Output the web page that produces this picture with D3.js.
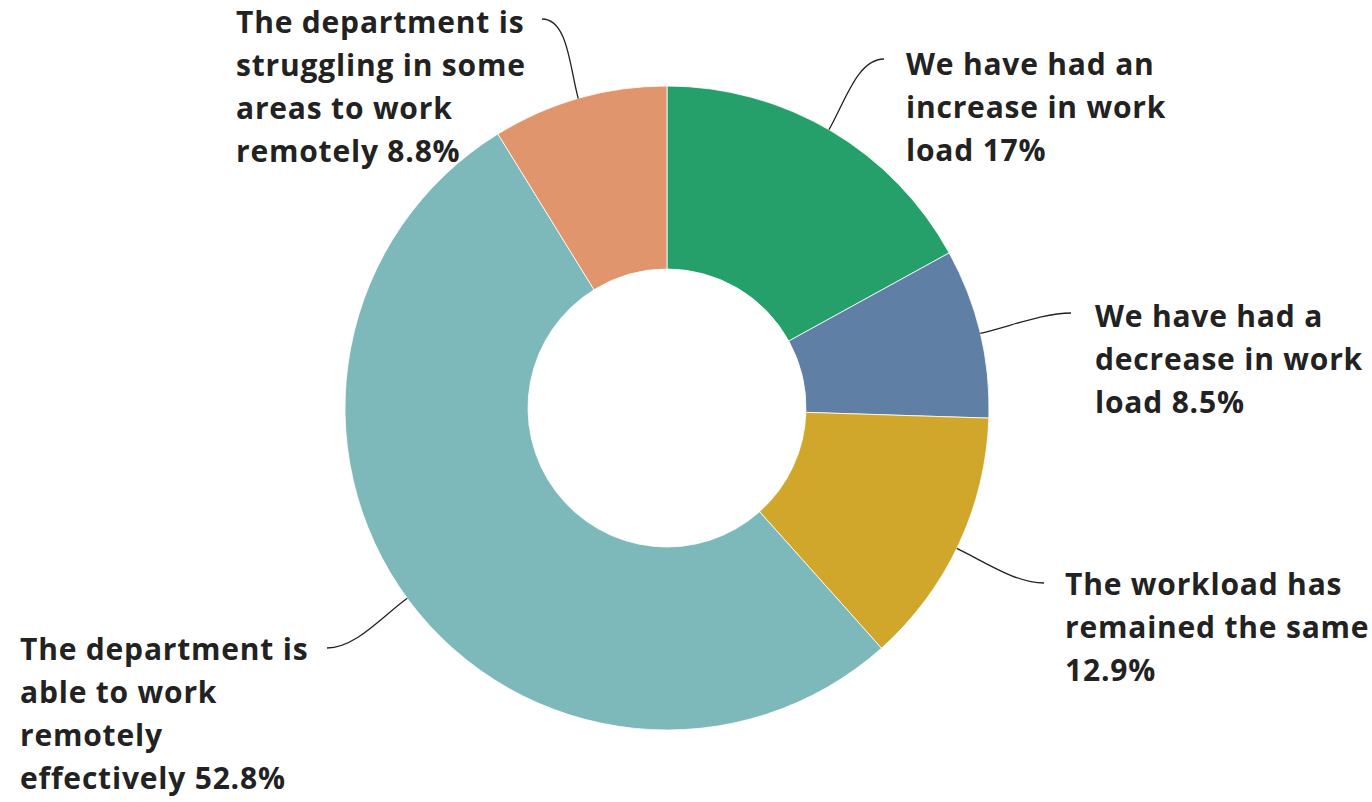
<!DOCTYPE html>
<html>
<head>
<meta charset="utf-8">
<script src="https://cdn.jsdelivr.net/npm/d3@7.9.0/dist/d3.min.js"></script>
<style>
  html, body { margin: 0; padding: 0; background: #fff; }
  svg text { font-family: "Open Sans", "Noto Sans", sans-serif; font-weight: 700; fill: #222; letter-spacing: 0.8px; }
</style>
</head>
<body>
<svg width="1372" height="802"></svg>
<script>
// slice data, clockwise from 12 o'clock
const categories = [
  'We have had an increase in work load',
  'We have had a decrease in work load',
  'The workload has remained the same',
  'The department is able to work remotely effectively',
  'The department is struggling in some areas to work remotely'
];
const values = [17, 8.5, 12.9, 52.8, 8.8];
const valueLabels = ['17%', '8.5%', '12.9%', '52.8%', '8.8%'];
const colorList = ['#25a06b', '#5f7fa5', '#d0a72b', '#7db8bb', '#e0956c'];
// wrapped label lines as in the original
const labelLines = [
  ['We have had an', 'increase in work', 'load 17%'],
  ['We have had a', 'decrease in work', 'load 8.5%'],
  ['The workload has', 'remained the same', '12.9%'],
  ['The department is', 'able to work', 'remotely', 'effectively 52.8%'],
  ['The department is', 'struggling in some', 'areas to work', 'remotely 8.8%']
];

const svg = d3.select('svg');
const cx = 667, cy = 408;
const outerR = 322, innerR = 139;

let pie = d3.pie().value(d => d).sort(null);
let arcGen = d3.arc().innerRadius(innerR).outerRadius(outerR);
let arcData = pie(values);

let g = svg.append('g').attr('transform', `translate(${cx},${cy})`);
g.selectAll('path')
  .data(arcData)
  .join('path')
  .attr('d', arcGen)
  .attr('fill', (d, i) => colorList[i])
  .attr('stroke', '#fff')
  .attr('stroke-width', 0.8);

// label placement (left x, first baseline), leader end point and side of label
const labelPos = [
  { x: 906, y: 75, anchor: [884, 59], side: 1 },
  { x: 1095, y: 327, anchor: [1071, 313], side: 1 },
  { x: 1065, y: 595, anchor: [1044, 583], side: 1 },
  { x: 20, y: 660, anchor: [327, 648], side: -1 },
  { x: 236, y: 33, anchor: [542, 19], side: -1 }
];
const lineH = 43;

// angle on the ring where each leader starts
const leaderAngles = [0.527, 1.337, 2.022, 4.08, 6.004];
arcData.forEach((d, i) => {
  let a = leaderAngles[i];
  let ux = Math.sin(a), uy = -Math.cos(a);
  let sx = cx + outerR * ux, sy = cy + outerR * uy;
  let [ex, ey] = labelPos[i].anchor;
  let len = Math.hypot(ex - sx, ey - sy);
  let c1x = sx + ux * len * 0.35, c1y = sy + uy * len * 0.35;
  let c2x = ex - labelPos[i].side * len * 0.3, c2y = ey;
  svg.append('path')
    .attr('d', `M${sx},${sy}C${c1x},${c1y} ${c2x},${c2y} ${ex},${ey}`)
    .attr('fill', 'none')
    .attr('stroke', '#222')
    .attr('stroke-width', 1.3);
});

labelLines.forEach((lines, i) => {
  let t = svg.append('text')
    .attr('x', labelPos[i].x)
    .attr('y', labelPos[i].y)
    .attr('font-size', 30);
  lines.forEach((ln, j) => {
    t.append('tspan')
      .attr('x', labelPos[i].x)
      .attr('y', labelPos[i].y + j * lineH)
      .text(ln);
  });
});
</script>
</body>
</html>
